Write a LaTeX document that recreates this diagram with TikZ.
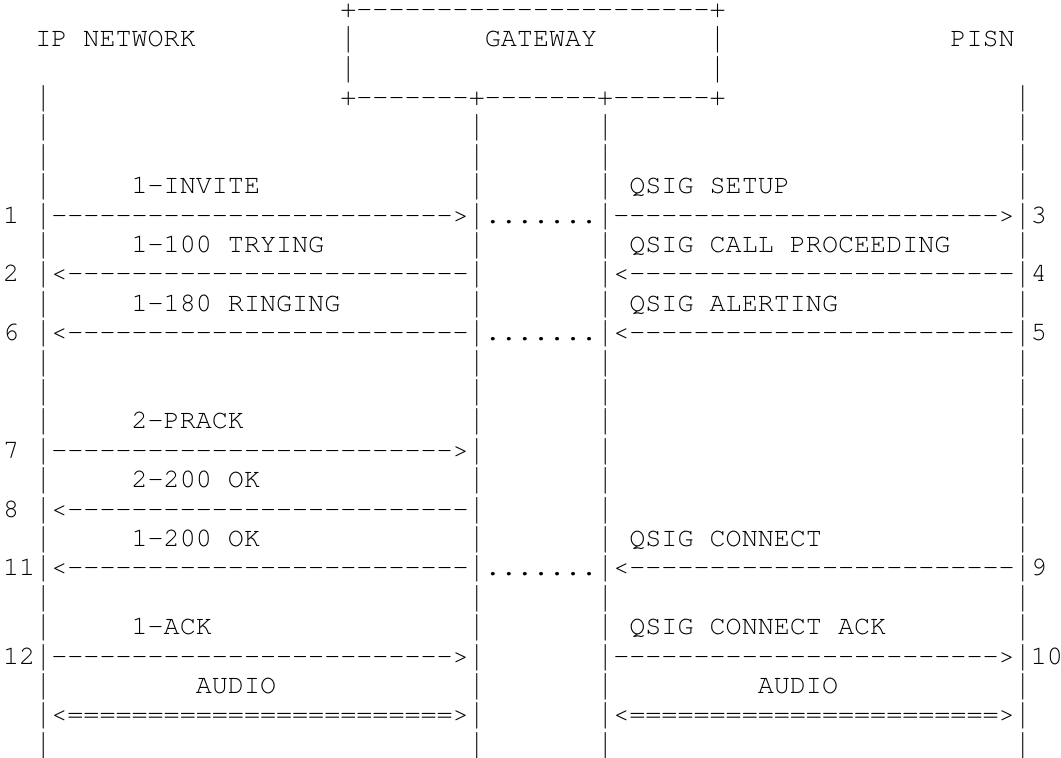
\documentclass[tikz,border=0pt]{standalone}
\usepackage{fontspec}
\setmonofont{TeX Gyre Cursor}
% the bar of Cursor is too short, take the longer one of the roman font
\newcommand\vbar{\makebox[0.6em]{\rmfamily|}}

\tikzset{
 ascii/.style={anchor=base west,inner sep=0pt,outer sep=0pt,
   font=\ttfamily\fontsize{26.76pt}{29.4pt}\selectfont},
}

\begin{document}
\begin{tikzpicture}[x=16.056pt,y=-29.4pt]
 \useasboundingbox (0pt,0pt) rectangle (1061pt,-758pt);
 \begin{scope}[shift={(3.17pt,-17.2pt)}]
 % gateway box and titles
 \node[ascii,text height=0.55em] (gwtop) at (21,0) {+----------------------+};
 \node[ascii] (gwl1) at (21,1) {\vbar};
 \node[ascii] (gwr1) at (44,1) {\vbar};
 \node[ascii] (gwl2) at (21,2) {\vbar};
 \node[ascii] (gwr2) at (44,2) {\vbar};
 \node[ascii] (gwbot) at (21,3) {+-------+-------+------+};
 \node[ascii] (ipnet) at (2,1) {IP NETWORK};
 \node[ascii] (gateway) at (30,1) {GATEWAY};
 \node[ascii] (pisn) at (59,1) {PISN};
 % life lines
 \foreach \r in {3,...,25} {
  \node[ascii] (ipline-\r) at (2,\r) {\vbar};
  \node[ascii] (pisnline-\r) at (63,\r) {\vbar};
 }
 \foreach \r in {4,...,25} {
  \node[ascii] (gwin-\r) at (29,\r) {\vbar};
  \node[ascii] (gwout-\r) at (37,\r) {\vbar};
 }
 % invite / setup
 \node[ascii] (invite) at (8,6) {1-INVITE};
 \node[ascii] (setup) at (39,6) {QSIG SETUP};
 \node[ascii] (n1) at (0,7) {1};
 \node[ascii] (invitearr) at (3,7) {------------------------->};
 \node[ascii] (dots1) at (30,7) {.......};
 \node[ascii] (setuparr) at (38,7) {------------------------>};
 \node[ascii] (n3) at (64,7) {3};
 % trying / call proceeding
 \node[ascii] (trying) at (8,8) {1-100 TRYING};
 \node[ascii] (callproc) at (39,8) {QSIG CALL PROCEEDING};
 \node[ascii] (n2) at (0,9) {2};
 \node[ascii] (tryingarr) at (3,9) {<-------------------------};
 \node[ascii] (callprocarr) at (38,9) {<------------------------};
 \node[ascii] (n4) at (64,9) {4};
 % ringing / alerting
 \node[ascii] (ringing) at (8,10) {1-180 RINGING};
 \node[ascii] (alerting) at (39,10) {QSIG ALERTING};
 \node[ascii] (n6) at (0,11) {6};
 \node[ascii] (ringingarr) at (3,11) {<-------------------------};
 \node[ascii] (dots2) at (30,11) {.......};
 \node[ascii] (alertingarr) at (38,11) {<------------------------};
 \node[ascii] (n5) at (64,11) {5};
 % prack
 \node[ascii] (prack) at (8,14) {2-PRACK};
 \node[ascii] (n7) at (0,15) {7};
 \node[ascii] (prackarr) at (3,15) {------------------------->};
 \node[ascii] (prackok) at (8,16) {2-200 OK};
 \node[ascii] (n8) at (0,17) {8};
 \node[ascii] (prackokarr) at (3,17) {<-------------------------};
 % connect
 \node[ascii] (inviteok) at (8,18) {1-200 OK};
 \node[ascii] (connect) at (39,18) {QSIG CONNECT};
 \node[ascii] (n11) at (0,19) {11};
 \node[ascii] (inviteokarr) at (3,19) {<-------------------------};
 \node[ascii] (dots3) at (30,19) {.......};
 \node[ascii] (connectarr) at (38,19) {<------------------------};
 \node[ascii] (n9) at (64,19) {9};
 % ack
 \node[ascii] (ack) at (8,21) {1-ACK};
 \node[ascii] (connack) at (39,21) {QSIG CONNECT ACK};
 \node[ascii] (n12) at (0,22) {12};
 \node[ascii] (ackarr) at (3,22) {------------------------->};
 \node[ascii] (connackarr) at (38,22) {------------------------>};
 \node[ascii] (n10) at (64,22) {10};
 % audio
 \node[ascii] (audiol) at (12,23) {AUDIO};
 \node[ascii] (audior) at (47,23) {AUDIO};
 \node[ascii] (audiolarr) at (3,24) {<========================>};
 \node[ascii] (audiorarr) at (38,24) {<=======================>};
 \end{scope}
\end{tikzpicture}
\end{document}
